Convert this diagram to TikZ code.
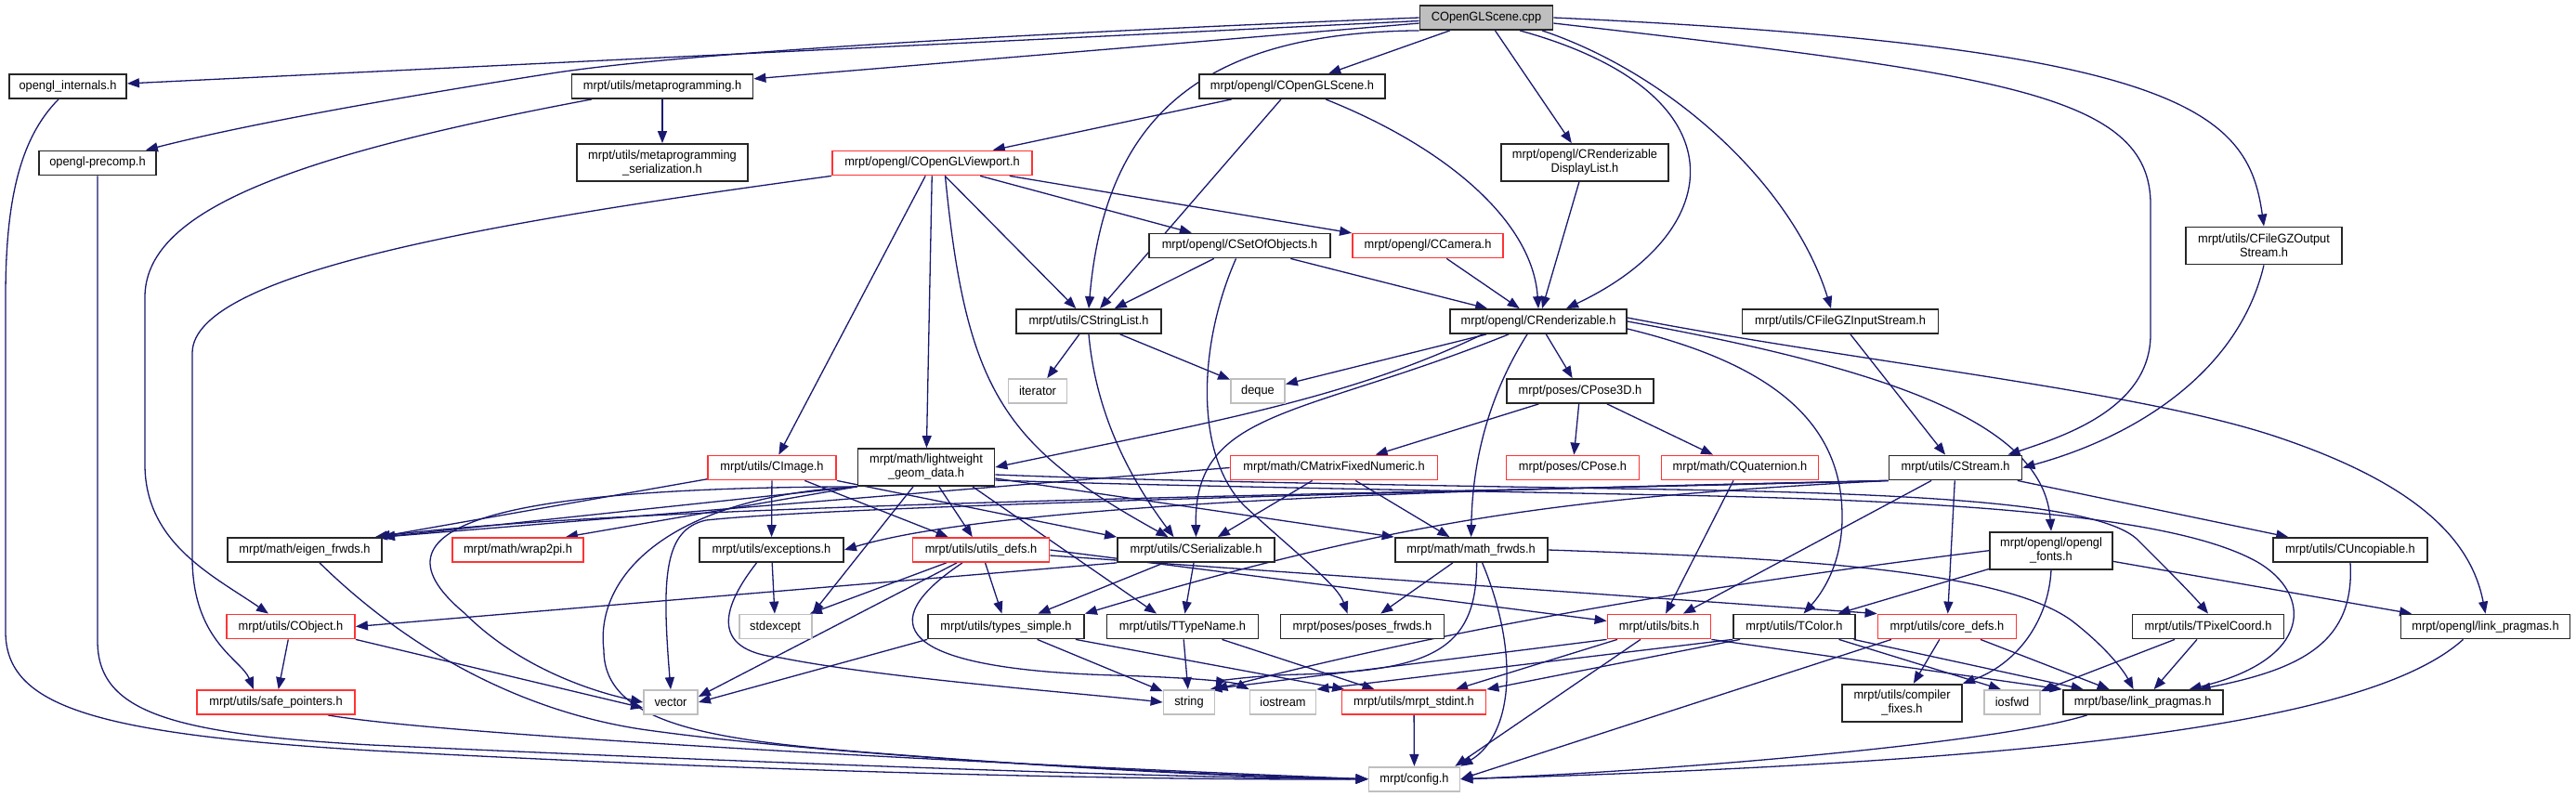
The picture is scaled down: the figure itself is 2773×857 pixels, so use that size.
\documentclass[tikz,border=0pt]{standalone}
\usepackage{fontspec}
\newfontfamily\dfont[FakeStretch=0.95]{Liberation Sans}
\usetikzlibrary{arrows.meta}
\definecolor{ebl}{HTML}{191970}
\definecolor{redc}{HTML}{FF3333}
\definecolor{grayc}{HTML}{BFBFBF}
\definecolor{gfillc}{HTML}{BFBFBF}
\pgfdeclarelayer{back}
\pgfdeclarelayer{bg}
\pgfsetlayers{back,bg,main}
\tikzset{
  nb/.style={draw=black!85, line width=0.9pt, fill=white, text=black,
    font={\dfont\fontsize{6.75}{7.5}\selectfont}, inner xsep=2pt, inner ysep=1pt,
    minimum height=13pt, align=center},
  rb/.style={nb, draw=redc},
  gb/.style={nb, draw=grayc},
  two/.style={minimum height=20pt},
  gfill/.style={fill=gfillc},
  ed/.style={draw=ebl, line width=0.65pt, -{Triangle[length=6.5pt,width=5pt]}}
}
\begin{document}
\begin{tikzpicture}[x=0.5pt,y=-0.5pt]
\useasboundingbox (0,0) rectangle (2773,857);
\begin{pgfonlayer}{back}
\fill[white] (0,0) rectangle (2773,857);
\end{pgfonlayer}
% nodes
\node[nb,gfill,minimum width=71.5pt] (cpp) at (1600,19) {COpenGLScene.cpp};
\node[nb,minimum width=63pt] (oint) at (73,93) {opengl\_internals.h};
\node[nb,minimum width=97.5pt] (meta) at (713,93) {mrpt/utils/metaprogramming.h};
\node[nb,minimum width=100pt] (scn) at (1391,93) {mrpt/opengl/COpenGLScene.h};
\node[nb,minimum width=63pt] (prec) at (105,175.5) {opengl-precomp.h};
\node[nb,two,minimum width=92pt] (mser) at (713,175) {mrpt/utils/metaprogramming\\\_serialization.h};
\node[rb,minimum width=107.5pt] (vp) at (1003.5,175.5) {mrpt/opengl/COpenGLViewport.h};
\node[nb,two,minimum width=90pt] (rdl) at (1706,175) {mrpt/opengl/CRenderizable\\DisplayList.h};
\node[nb,two,minimum width=84pt] (gzo) at (2437,264.5) {mrpt/utils/CFileGZOutput\\Stream.h};
\node[nb,minimum width=97.5pt] (soo) at (1334.5,264.5) {mrpt/opengl/CSetOfObjects.h};
\node[rb,minimum width=81pt] (cam) at (1537,264.5) {mrpt/opengl/CCamera.h};
\node[nb,minimum width=78pt] (csl) at (1172,346) {mrpt/utils/CStringList.h};
\node[nb,minimum width=95pt] (rend) at (1656,346) {mrpt/opengl/CRenderizable.h};
\node[nb,minimum width=105.5pt] (gzi) at (1981,346) {mrpt/utils/CFileGZInputStream.h};
\node[gb,minimum width=31.5pt] (iter) at (1117,421) {iterator};
\node[gb,minimum width=29pt] (deq) at (1354,421) {deque};
\node[nb,minimum width=79pt] (p3d) at (1701,421) {mrpt/poses/CPose3D.h};
\node[rb,minimum width=69pt] (img) at (831,503.5) {mrpt/utils/CImage.h};
\node[nb,two,minimum width=73.5pt] (lwg) at (997,503) {mrpt/math/lightweight\\\_geom\_data.h};
\node[rb,minimum width=111.5pt] (cmf) at (1436,503.5) {mrpt/math/CMatrixFixedNumeric.h};
\node[rb,minimum width=71.5pt] (pose) at (1693,503.5) {mrpt/poses/CPose.h};
\node[rb,minimum width=84.5pt] (quat) at (1873,503.5) {mrpt/math/CQuaternion.h};
\node[nb,minimum width=71.5pt] (strm) at (2105,503.5) {mrpt/utils/CStream.h};
\node[nb,minimum width=83pt] (eig) at (328,592) {mrpt/math/eigen\_frwds.h};
\node[rb,minimum width=70.5pt] (w2p) at (557.5,592) {mrpt/math/wrap2pi.h};
\node[nb,minimum width=77.5pt] (exc) at (830.5,592) {mrpt/utils/exceptions.h};
\node[rb,minimum width=73.5pt] (udef) at (1056,592) {mrpt/utils/utils\_defs.h};
\node[nb,minimum width=84.5pt] (ser) at (1287.5,592) {mrpt/utils/CSerializable.h};
\node[nb,minimum width=82pt] (mfw) at (1583.6,592) {mrpt/math/math\_frwds.h};
\node[nb,two,minimum width=66pt] (fonts) at (2208,592.7) {mrpt/opengl/opengl\\\_fonts.h};
\node[nb,minimum width=83pt] (unc) at (2530,592) {mrpt/utils/CUncopiable.h};
\node[rb,minimum width=69pt] (cobj) at (313,674.5) {mrpt/utils/CObject.h};
\node[gb,minimum width=39pt] (stdx) at (834.6,674.5) {stdexcept};
\node[nb,minimum width=84pt] (tsim) at (1083,674.5) {mrpt/utils/types\_simple.h};
\node[nb,minimum width=81.5pt] (ttn) at (1273,674.5) {mrpt/utils/TTypeName.h};
\node[nb,minimum width=88pt] (pfw) at (1466.5,674.5) {mrpt/poses/poses\_frwds.h};
\node[rb,minimum width=55.5pt] (bits) at (1786,674.5) {mrpt/utils/bits.h};
\node[nb,minimum width=65.5pt] (tcol) at (1931.5,674.5) {mrpt/utils/TColor.h};
\node[rb,minimum width=74.5pt] (core) at (2096,674.5) {mrpt/utils/core\_defs.h};
\node[nb,minimum width=81.5pt] (tpx) at (2377,674.5) {mrpt/utils/TPixelCoord.h};
\node[nb,minimum width=91pt] (glp) at (2675.5,674.5) {mrpt/opengl/link\_pragmas.h};
\node[rb,minimum width=85pt] (safe) at (297,756) {mrpt/utils/safe\_pointers.h};
\node[gb,minimum width=29pt] (vec) at (722,756) {vector};
\node[gb,minimum width=27.5pt] (str) at (1280,756) {string};
\node[gb,minimum width=35.5pt] (ios) at (1381,756) {iostream};
\node[rb,minimum width=77.5pt] (stdint) at (1522,756) {mrpt/utils/mrpt\_stdint.h};
\node[nb,two,minimum width=64.5pt] (cfix) at (2047.5,756.7) {mrpt/utils/compiler\\\_fixes.h};
\node[gb,minimum width=30pt] (iosf) at (2166,756) {iosfwd};
\node[nb,minimum width=86pt] (blp) at (2306.6,756) {mrpt/base/link\_pragmas.h};
\node[gb,minimum width=49pt] (cfg) at (1522.5,838.7) {mrpt/config.h};

\begin{pgfonlayer}{bg}
% from COpenGLScene.cpp
\draw[ed] (cpp) -- (oint);
\draw[ed] (cpp.west) .. controls (1100,36) and (750,56) .. (600,78) .. controls (420,106) and (260,135) .. ([xshift=-6pt]prec.north east);
\draw[ed] (cpp) -- (meta);
\draw[ed] (cpp) -- (scn);
\draw[ed] (cpp) -- (rdl);
\draw[ed] (cpp.south west) .. controls (1300,35) and (1190,120) .. (csl.north);
\draw[ed] ([xshift=18pt]cpp.south) .. controls (1880,100) and (1860,250) .. ([xshift=15pt]rend.north);
\draw[ed] ([xshift=30pt]cpp.south) .. controls (1800,80) and (1930,200) .. ([xshift=-5pt]gzi.north);
\draw[ed] (cpp.east) .. controls (2350,50) and (2420,120) .. (gzo.north);
\draw[ed] ([yshift=-3pt]cpp.east) .. controls (2150,80) and (2315,100) .. (2315,220) -- (2315,360) .. controls (2315,440) and (2220,470) .. ([xshift=-8pt]strm.north east);
% COpenGLScene.h
\draw[ed] (scn) -- (vp);
\draw[ed] (scn) -- (csl);
\draw[ed] ([xshift=18pt]scn.south) .. controls (1560,160) and (1650,240) .. (rend.north);
% metaprogramming
\draw[ed] (meta) -- (mser);
\draw[ed] ([xshift=-38pt]meta.south) .. controls (300,170) and (156,230) .. (156,320) -- (156,500) .. controls (156,585) and (230,620) .. ([xshift=-12pt]cobj.north);
% COpenGLViewport
\draw[ed] (vp.south west) .. controls (560,235) and (207,290) .. (207,380) -- (207,600) .. controls (207,690) and (260,710) .. ([xshift=-12pt]safe.north);
\draw[ed] (vp) -- (img);
\draw[ed] (vp) -- (lwg);
\draw[ed] ([xshift=7pt]vp.south) .. controls (1040,420) and (1080,480) .. ([xshift=-15pt]ser.north);
\draw[ed] (vp) -- (csl);
\draw[ed] (vp) -- (soo);
\draw[ed] (vp) -- (cam);
% misc upper
\draw[ed] (rdl) -- (rend);
\draw[ed] (gzo.south) .. controls (2410,400) and (2300,470) .. (strm.east);
\draw[ed] (gzi) -- (strm);
\draw[ed] (soo) -- (csl);
\draw[ed] (soo) -- (rend);
\draw[ed] ([xshift=-2pt]soo.south) .. controls (1290,370) and (1285,490) .. (1340,545) .. controls (1400,600) and (1440,630) .. ([xshift=-8pt]pfw.north);
\draw[ed] (cam) -- (rend);
% CStringList
\draw[ed] (csl) -- (iter);
\draw[ed] (csl) -- (deq);
\draw[ed] (csl.south) .. controls (1180,450) and (1220,520) .. ([xshift=-12pt]ser.north);
% CRenderizable
\draw[ed] (rend) -- (deq);
\draw[ed] ([xshift=-30pt]rend.south) .. controls (1450,430) and (1300,455) .. (lwg.east);
\draw[ed] ([xshift=-16pt]rend.south) .. controls (1400,450) and (1285,440) .. (ser.north);
\draw[ed] ([xshift=-6pt]rend.south) .. controls (1600,430) and (1585,500) .. (mfw.north);
\draw[ed] (rend) -- (p3d);
\draw[ed] ([yshift=-4pt]rend.east) .. controls (1900,390) and (1985,450) .. (1983,560) .. controls (1982,610) and (1960,640) .. ([xshift=5pt]tcol.north);
\draw[ed] (rend.east) .. controls (2050,400) and (2200,460) .. (fonts.north);
\draw[ed] ([yshift=2pt]rend.east) .. controls (2000,390) and (2300,420) .. (2450,470) .. controls (2600,520) and (2660,580) .. (glp.north);
% CPose3D
\draw[ed] (p3d) -- (cmf);
\draw[ed] (p3d) -- (pose);
\draw[ed] (p3d) -- (quat);
% CMatrixFixedNumeric
\draw[ed] (cmf) -- (ser);
\draw[ed] (cmf) -- (mfw);
\draw[ed] (cmf.west) -- (eig.north east);
% CQuaternion
\draw[ed] (quat) -- (bits);
% CStream
\draw[ed] (strm.south west) .. controls (1700,525) and (1100,535) .. (exc.east);
\draw[ed] (strm.south west) .. controls (1600,530) and (700,540) .. ([xshift=-4pt]eig.north east);
\draw[ed] (strm.south west) .. controls (1500,530) and (900,545) .. (760,560) .. controls (715,570) and (712,620) .. (vec.north);
\draw[ed] (strm.south west) .. controls (1700,535) and (1520,555) .. (tsim.north east);
\draw[ed] (strm) -- (bits);
\draw[ed] (strm) -- (core);
\draw[ed] (strm) -- (unc);
% CImage
\draw[ed] (img) -- (eig);
\draw[ed] (img) -- (exc);
\draw[ed] (img) -- (udef);
\draw[ed] (img.south east) -- (ser.north west);
% lightweight_geom_data
\draw[ed] (lwg.south west) -- (eig.north east);
\draw[ed] (lwg.south west) -- ([xshift=-10pt]w2p.north east);
\draw[ed] ([xshift=-7pt]lwg.south) -- (stdx.north east);
\draw[ed] (lwg) -- (udef);
\draw[ed] ([xshift=25pt]lwg.south) -- ([xshift=-14pt]ttn.north);
\draw[ed] ([yshift=-6pt]lwg.east) -- (mfw.north west);
\draw[ed] ([yshift=-4pt]lwg.east) .. controls (1250,518) and (1500,522) .. (1800,527) .. controls (2100,532) and (2260,545) .. (2300,580) .. controls (2330,610) and (2360,640) .. (tpx.north);
\draw[ed] ([yshift=-7pt]lwg.east) .. controls (1250,523) and (1500,527) .. (1800,533) .. controls (2150,540) and (2350,560) .. (2430,605) .. controls (2490,640) and (2490,710) .. ([xshift=25pt]blp.north);
\draw[ed] (lwg.south west) .. controls (560,525) and (380,560) .. (500,660) .. controls (560,720) and (640,745) .. (vec.west);
\draw[ed] (lwg.south west) .. controls (720,535) and (640,620) .. (650,700) .. controls (650,790) and (800,800) .. (1000,815) .. controls (1200,830) and (1350,837) .. (cfg.west);
% exceptions
\draw[ed] (exc) -- (stdx);
\draw[ed] ([xshift=-8pt]exc.south) .. controls (780,650) and (760,700) .. (840,708) .. controls (950,730) and (1150,745) .. (str.west);
% utils_defs
\draw[ed] (udef) -- (stdx);
\draw[ed] (udef) -- (tsim);
\draw[ed] ([xshift=-13pt]udef.south) -- ([yshift=3pt]vec.east);
\draw[ed] ([xshift=-10pt]udef.south) .. controls (940,670) and (960,720) .. (1200,727) .. controls (1300,730) and (1330,735) .. (ios.north west);
\draw[ed] (udef.east) -- ([yshift=3pt]bits.west);
\draw[ed] ([yshift=-3pt]udef.east) -- (core.north west);
% CSerializable
\draw[ed] (ser.south west) -- (cobj.east);
\draw[ed] (ser) -- (tsim);
\draw[ed] (ser) -- (ttn);
% math_frwds
\draw[ed] (mfw) -- (pfw);
\draw[ed] ([xshift=3pt]mfw.south) .. controls (1590,700) and (1540,722) .. (1400,726) .. controls (1330,728) and (1312,735) .. (str.north east);
\draw[ed] ([xshift=6pt]mfw.south) .. controls (1635,700) and (1630,790) .. (cfg.north east);
\draw[ed] (mfw.east) .. controls (1900,600) and (2150,610) .. (2230,668) .. controls (2265,695) and (2285,720) .. ([xshift=-5pt]blp.north);
% bits
\draw[ed] (bits.south west) -- ([xshift=-3pt]str.north east);
\draw[ed] (bits) -- (stdint);
\draw[ed] ([xshift=-10pt]bits.south) -- ([xshift=-3pt]cfg.north east);
\draw[ed] (bits.south east) -- (blp.north west);
% TColor
\draw[ed] (tcol.south west) -- (ios.north east);
\draw[ed] ([xshift=4pt]tcol.south west) -- (stdint.north east);
\draw[ed] ([xshift=24pt]tcol.south) -- ([xshift=-6pt]iosf.north);
\draw[ed] (tcol) -- (blp);
% core_defs
\draw[ed] ([xshift=-30pt]core.south) -- (cfg.east);
\draw[ed] (core) -- (cfix);
\draw[ed] (core) -- (blp);
% opengl_fonts
\draw[ed] (fonts) -- (tcol);
\draw[ed] (fonts.south) .. controls (2205,670) and (2170,715) .. (cfix.north east);
\draw[ed] (fonts) -- (glp);
\draw[ed] (fonts.west) .. controls (1800,635) and (1550,680) .. (str.north east);
% CUncopiable, TPixelCoord
\draw[ed] (unc.south) .. controls (2535,690) and (2480,720) .. ([xshift=30pt]blp.north);
\draw[ed] (tpx) -- (iosf);
\draw[ed] (tpx) -- (blp);
% link_pragmas
\draw[ed] ([xshift=-12pt]glp.south) .. controls (2550,780) and (2200,820) .. (cfg.east);
\draw[ed] ([xshift=-30pt]blp.south) .. controls (2150,800) and (1800,830) .. (cfg.east);
% types_simple, TTypeName, mrpt_stdint
\draw[ed] (tsim.south west) -- (vec.east);
\draw[ed] (tsim) -- (str);
\draw[ed] (tsim) -- (stdint);
\draw[ed] (ttn) -- (str);
\draw[ed] (ttn) -- (stdint);
\draw[ed] (stdint) -- (cfg);
% CObject
\draw[ed] (cobj) -- (safe);
\draw[ed] (cobj.south east) -- ([yshift=-3pt]vec.west);
% into config from the left
\draw[ed] ([xshift=-5pt]oint.south) .. controls (20,150) and (6,220) .. (6,320) -- (6,680) .. controls (6,760) and (100,790) .. (400,808) .. controls (900,835) and (1300,840) .. (cfg.west);
\draw[ed] (prec.south) -- (105,690) .. controls (105,765) and (180,790) .. (400,802) .. controls (900,825) and (1300,838) .. (cfg.west);
\draw[ed] ([xshift=28pt]safe.south) .. controls (500,795) and (1200,828) .. (cfg.west);
\draw[ed] ([xshift=8pt]eig.south) .. controls (440,700) and (560,765) .. (690,785) .. controls (900,815) and (1300,835) .. (cfg.west);
\end{pgfonlayer}
\end{tikzpicture}
\end{document}
